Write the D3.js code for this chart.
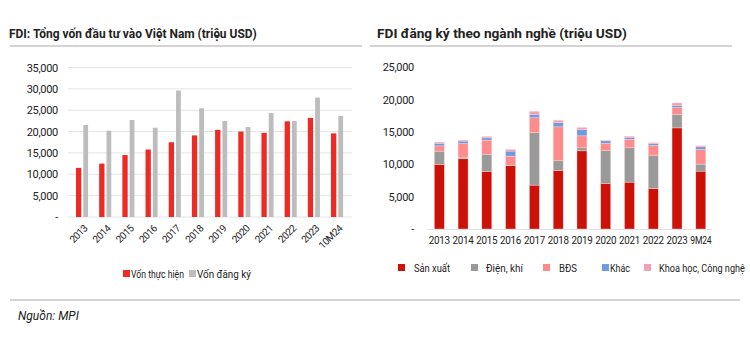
<html>
<head>
<meta charset="utf-8">
<style>
    body { margin: 0; background: #fff; }
    svg { display: block; }
    text { font-family: Roboto, "Liberation Sans", sans-serif; fill: #222; }
    .title { font-weight: bold; font-size: 13.5px; }
    .tick text { font-size: 11px; letter-spacing: -0.3px; }
    .grid line { stroke: #e4e4e4; }
</style>
</head>
<body>
<svg id="chart" width="750" height="346"></svg>
<script src="https://d3js.org/d3.v7.min.js"></script>
<script>
    // left chart: total FDI
    var years = ["2013", "2014", "2015", "2016", "2017", "2018", "2019", "2020", "2021", "2022", "2023", "10M24"];
    var disbursed = [11500, 12500, 14500, 15800, 17500, 19100, 20400, 20000, 19700, 22400, 23200, 19580];
    var registered = [21530, 20220, 22700, 20900, 29600, 25450, 22470, 21060, 24340, 22470, 27950, 23640];
    var leftTicks = [0, 5000, 10000, 15000, 20000, 25000, 30000, 35000];

    // right chart: registered FDI by sector
    var years2 = ["2013", "2014", "2015", "2016", "2017", "2018", "2019", "2020", "2021", "2022", "2023", "9M24"];
    var sectors = ["Sản xuất", "Điện, khí", "BĐS", "Khác", "Khoa học, Công nghệ"];
    var sanXuat = [10000, 10850, 8900, 9770, 6790, 9060, 12080, 7050, 7250, 6220, 15630, 8950];
    var dienKhi = [2040, 250, 2670, 100, 8130, 1480, 470, 5140, 5300, 5200, 2120, 1080];
    var bds = [810, 2100, 2170, 1400, 2280, 5250, 1850, 1040, 1340, 1500, 1030, 2270];
    var khac = [420, 400, 350, 780, 520, 670, 990, 400, 310, 250, 360, 400];
    var khcn = [160, 150, 210, 250, 480, 360, 310, 100, 150, 160, 350, 160];
    var rightTicks = [0, 5000, 10000, 15000, 20000, 25000];

    var fmt = function (d) { return d === 0 ? "-" : d3.format(",")(d); };

    var svg = d3.select("#chart");

    // squeeze a text horizontally so it spans `w` pixels from (x, y)
    function fitText(sel, x, y, w) {
        sel.each(function (d, i) {
            var t = d3.select(this);
            var xx = typeof x === "function" ? x(d, i) : x;
            var ww = typeof w === "function" ? w(d, i) : w;
            var natural = this.getComputedTextLength();
            t.attr("x", 0).attr("y", 0)
             .attr("transform", "translate(" + xx + "," + y + ") scale(" + (ww / natural) + ",1)");
        });
    }

    // titles and rules
    svg.append("text").attr("class", "title")
        .text("FDI: Tổng vốn đầu tư vào Việt Nam (triệu USD)")
        .call(fitText, 9, 38, 248);
    svg.append("text").attr("class", "title")
        .text("FDI đăng ký theo ngành nghề (triệu USD)")
        .call(fitText, 377, 38, 250);
    svg.append("line").attr("x1", 10).attr("x2", 362).attr("y1", 46).attr("y2", 46)
        .attr("stroke", "#d4d4d4").attr("stroke-width", 2);
    svg.append("line").attr("x1", 370).attr("x2", 732).attr("y1", 46).attr("y2", 46)
        .attr("stroke", "#d4d4d4").attr("stroke-width", 2);
    svg.append("line").attr("x1", 10).attr("x2", 740).attr("y1", 300).attr("y2", 300)
        .attr("stroke", "#d4d4d4").attr("stroke-width", 2);
    svg.append("text").attr("x", 18).attr("y", 320)
        .style("font-style", "italic").style("font-size", "12px")
        .text("Nguồn: MPI");

    // ---- left chart ----
    var x1 = d3.scaleBand().domain(years).range([70.4, 348.6]);
    var y1 = d3.scaleLinear().domain([0, 35000]).range([217, 67.5]);

    svg.append("g").attr("class", "grid")
        .selectAll("line").data(leftTicks).enter().append("line")
        .attr("x1", 68).attr("x2", 352)
        .attr("y1", function (d) { return y1(d); })
        .attr("y2", function (d) { return y1(d); });

    var ly = svg.append("g").attr("transform", "translate(62,0)")
        .call(d3.axisLeft(y1).tickValues(leftTicks).tickFormat(fmt).tickSize(0).tickPadding(4));
    ly.select(".domain").remove();

    var lx = svg.append("g").attr("transform", "translate(0,219)")
        .call(d3.axisBottom(x1).tickSize(0));
    lx.select(".domain").remove();
    lx.selectAll("text")
        .style("font-size", "10px")
        .style("letter-spacing", "-0.5px")
        .attr("text-anchor", "end")
        .attr("dy", null)
        .attr("transform", "translate(4,8) rotate(-45)");

    var leftG = svg.append("g");
    leftG.selectAll(".real").data(disbursed).enter().append("rect")
        .attr("x", function (d, i) { return x1(years[i]) + x1.bandwidth() / 2 - 6; })
        .attr("width", 5.3)
        .attr("y", function (d) { return y1(d); })
        .attr("height", function (d) { return y1(0) - y1(d); })
        .attr("fill", "#ee2a24");
    leftG.selectAll(".reg").data(registered).enter().append("rect")
        .attr("x", function (d, i) { return x1(years[i]) + x1.bandwidth() / 2 + 1.3; })
        .attr("width", 4.8)
        .attr("y", function (d) { return y1(d); })
        .attr("height", function (d) { return y1(0) - y1(d); })
        .attr("fill", "#bdbdbd");

    // label, colour, square x, text x, text width
    var leftLegend = [["Vốn thực hiện", "#ee2a24", 123, 131, 53], ["Vốn đăng ký", "#bdbdbd", 189, 197, 54]];
    var ll = svg.append("g").selectAll("g").data(leftLegend).enter().append("g");
    ll.append("rect").attr("x", function (d) { return d[2]; }).attr("y", 270).attr("width", 7).attr("height", 7)
        .attr("fill", function (d) { return d[1]; });
    ll.append("text").style("font-size", "11px")
        .text(function (d) { return d[0]; })
        .call(fitText, function (d) { return d[3]; }, 277.5, function (d) { return d[4]; });

    // ---- right chart ----
    var x2 = d3.scaleBand().domain(years2).range([427.4, 712.7]).paddingInner(0.58).paddingOuter(0.29);
    var y2 = d3.scaleLinear().domain([0, 25000]).range([229, 67.3]);
    var colors = ["#cc1208", "#9a9a9a", "#ff8c8c", "#6f9be0", "#f4a0b0"];

    var rows = years2.map(function (yr, i) {
        return { year: yr, "Sản xuất": sanXuat[i], "Điện, khí": dienKhi[i], "BĐS": bds[i],
                 "Khác": khac[i], "Khoa học, Công nghệ": khcn[i] };
    });
    var stack = d3.stack().keys(sectors)(rows);

    var ry = svg.append("g").attr("transform", "translate(416,0)")
        .call(d3.axisLeft(y2).tickValues(rightTicks).tickFormat(fmt).tickSize(0).tickPadding(2));
    ry.select(".domain").remove();

    svg.append("line").attr("x1", 427).attr("x2", 712).attr("y1", 229.5).attr("y2", 229.5)
        .attr("stroke", "#e2e2e2");

    svg.append("g").selectAll("g").data(stack).enter().append("g")
        .attr("fill", function (d, i) { return colors[i]; })
        .selectAll("rect").data(function (d) { return d; }).enter().append("rect")
        .attr("x", function (d) { return x2(d.data.year); })
        .attr("width", x2.bandwidth())
        .attr("y", function (d) { return y2(d[1]); })
        .attr("height", function (d) { return y2(d[0]) - y2(d[1]); })
        .attr("stroke", "#fbdada").attr("stroke-width", 0.4);

    var rx = svg.append("g").attr("transform", "translate(0,233)")
        .call(d3.axisBottom(x2).tickSize(0));
    rx.select(".domain").remove();
    rx.selectAll("text")
        .style("font-size", "11px")
        .attr("textLength", function (d) { return d.length === 4 ? 21 : 24; })
        .attr("lengthAdjust", "spacingAndGlyphs");

    // square x, text x, text width
    var rightLegend = [[398, 414, 36], [471, 486, 37], [543, 559, 18], [602, 610, 20], [644, 659, 86]];
    var rl = svg.append("g").selectAll("g").data(sectors).enter().append("g");
    rl.append("rect")
        .attr("x", function (d, i) { return rightLegend[i][0]; })
        .attr("y", 264).attr("width", 7).attr("height", 7)
        .attr("fill", function (d, i) { return colors[i]; });
    rl.append("text").style("font-size", "11.5px")
        .text(function (d) { return d; })
        .call(fitText, function (d, i) { return rightLegend[i][1]; }, 272,
              function (d, i) { return rightLegend[i][2]; });
</script>
</body>
</html>
